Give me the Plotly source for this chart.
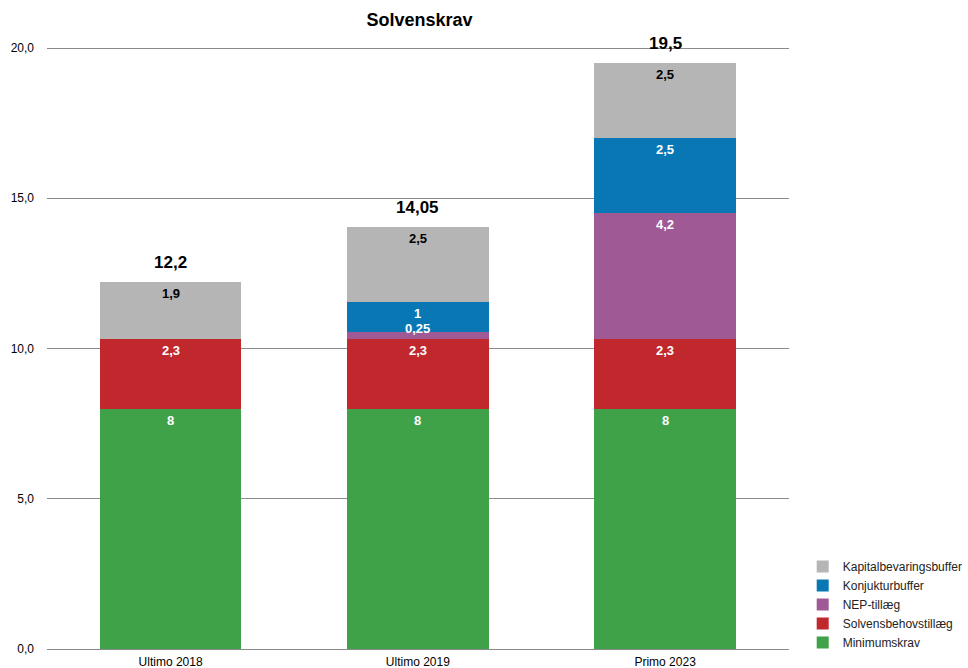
import plotly.graph_objects as go

categories = ["Ultimo 2018", "Ultimo 2019", "Primo 2023"]
series_names = ["Minimumskrav", "Solvensbehovstillæg", "NEP-tillæg", "Konjukturbuffer", "Kapitalbevaringsbuffer"]
minimumskrav = [8, 8, 8]
solvensbehov = [2.3, 2.3, 2.3]
nep = [0, 0.25, 4.2]
konjunktur = [0, 1, 2.5]
kapital = [1.9, 2.5, 2.5]
totals = [12.2, 14.05, 19.5]
tick_vals = [0, 5, 10, 15, 20]
tick_text = ["0,0", "5,0", "10,0", "15,0", "20,0"]

series_values = [minimumskrav, solvensbehov, nep, konjunktur, kapital]
colors = ["#40a248", "#c0282e", "#9f5a96", "#0a77b5", "#b5b5b5"]
label_colors = ["white", "white", "white", "white", "black"]

FONT = "Liberation Sans, Arial, Helvetica, sans-serif"

def fmt(v):
    return ("%g" % v).replace(".", ",")

fig = go.Figure()
for name, vals, col in zip(series_names, series_values, colors):
    fig.add_trace(go.Bar(
        x=categories, y=vals, name=name, marker=dict(color=col, line=dict(width=0)),
        width=0.573, hoverinfo="x+y+name",
    ))

annotations = []
for i, cat in enumerate(categories):
    base = 0
    for vals, lc in zip(series_values, label_colors):
        v = vals[i]
        if v > 0:
            top = base + v
            if v < 0.5:
                annotations.append(dict(
                    x=cat, y=top, xref="x", yref="y", text="<b>%s</b>" % fmt(v),
                    showarrow=False, yanchor="middle", yshift=3,
                    font=dict(family=FONT, size=13, color=lc)))
            else:
                annotations.append(dict(
                    x=cat, y=top, xref="x", yref="y", text="<b>%s</b>" % fmt(v),
                    showarrow=False, yanchor="top", yshift=-2,
                    font=dict(family=FONT, size=13, color=lc)))
        base += v
    annotations.append(dict(
        x=cat, y=totals[i], xref="x", yref="y", text="<b>%s</b>" % fmt(totals[i]),
        showarrow=False, yanchor="bottom", yshift=8,
        font=dict(family=FONT, size=17, color="black"),
    ))

L = 47
PW = 968 - L
PH = 668 - 45 - 19
fig.update_layout(
    barmode="stack",
    width=968, height=668,
    margin=dict(l=L, r=0, t=45, b=19),
    paper_bgcolor="white", plot_bgcolor="white",
    title=dict(text="<b>Solvenskrav</b>", x=(47 + 792) / 2 / 968, xanchor="center",
               y=1 - 20 / 668, yanchor="middle",
               font=dict(family=FONT, size=18, color="black")),
    annotations=annotations,
    legend=dict(x=(806 - L) / PW, xanchor="left", y=-8 / PH, yanchor="bottom",
                traceorder="reversed", font=dict(family=FONT, size=12, color="#222"),
                itemsizing="constant", tracegroupgap=0, bgcolor="rgba(0,0,0,0)"),
    showlegend=True,
)
fig.update_xaxes(domain=[0, (792 - L) / PW], showgrid=False, showline=False, ticks="",
                 automargin=False, ticklabelstandoff=4,
                 tickfont=dict(family=FONT, size=12, color="black"), fixedrange=True)
fig.update_yaxes(range=[0, 20.1], tickvals=tick_vals, ticktext=tick_text, showgrid=True,
                 gridcolor="#8a8a8a", gridwidth=1, zeroline=True, zerolinecolor="#8a8a8a",
                 zerolinewidth=1, ticks="", ticklabelstandoff=12, automargin=False,
                 tickfont=dict(family=FONT, size=12, color="black"))

fig.write_html("out.html")
